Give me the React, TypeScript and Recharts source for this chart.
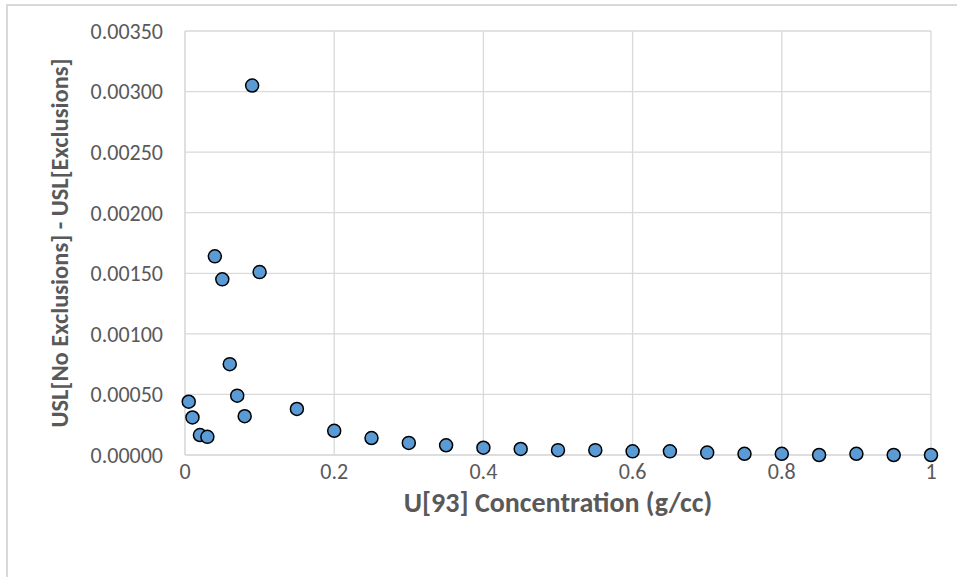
import { ScatterChart, Scatter, XAxis, YAxis, CartesianGrid } from "recharts"

const concentration = [
  0.005, 0.01, 0.02, 0.03, 0.04, 0.05, 0.06, 0.07, 0.08, 0.09, 0.1, 0.15, 0.2, 0.25, 0.3,
  0.35, 0.4, 0.45, 0.5, 0.55, 0.6, 0.65, 0.7, 0.75, 0.8, 0.85, 0.9, 0.95, 1.0,
]
const uslDifference = [
  0.00044, 0.00031, 0.000165, 0.00015, 0.00164, 0.00145, 0.00075, 0.00049, 0.00032, 0.00305,
  0.00151, 0.00038, 0.0002, 0.00014, 0.0001, 0.00008, 0.00006, 0.00005, 0.00004, 0.00004,
  0.00003, 0.00003, 0.00002, 0.00001, 0.00001, 0.0, 0.00001, 0.0, 0.0,
]
const xTicks = [0, 0.2, 0.4, 0.6, 0.8, 1]
const yTicks = [0, 0.0005, 0.001, 0.0015, 0.002, 0.0025, 0.003, 0.0035]

const points = concentration.map((x, i) => ({ x, y: uslDifference[i] }))

const font = "Calibri, Carlito, 'Open Sans', sans-serif"
const tickStyle = { fill: "#595959", fontSize: 22, fontFamily: font }
const titleStyle = { fill: "#595959", fontWeight: 700, fontFamily: font }

const Dot = (props: any) => {
  const { cx, cy } = props
  return <circle cx={cx} cy={cy} r={6.5} fill="#5b9bd5" stroke="#000" strokeWidth={1.5} />
}

export default function App() {
  return (
    <div style={{ position: "absolute", left: 0, top: 0, width: 957, height: 577, background: "#fff" }}>
      <div
        style={{
          position: "absolute",
          left: 6,
          top: 4,
          width: 960,
          height: 600,
          borderLeft: "2px solid #d9d9d9",
          borderTop: "2px solid #d9d9d9",
        }}
      />
      <ScatterChart
        width={957}
        height={577}
        margin={{ top: 31, right: 26, bottom: 62, left: 0 }}
        style={{ position: "absolute", left: 0, top: 0 }}
      >
        <CartesianGrid stroke="#d9d9d9" strokeWidth={1.3} />
        <XAxis
          type="number"
          dataKey="x"
          domain={[0, 1]}
          ticks={xTicks}
          tickFormatter={(v: number) => String(v)}
          axisLine={{ stroke: "#d9d9d9" }}
          tickLine={false}
          tickSize={0}
          tickMargin={8}
          tick={tickStyle}
          height={60}
          label={{
            value: "U[93] Concentration (g/cc)",
            position: "insideBottom",
            offset: 3,
            style: { ...titleStyle, fontSize: 28 },
          }}
        />
        <YAxis
          type="number"
          dataKey="y"
          domain={[0, 0.0035]}
          ticks={yTicks}
          tickFormatter={(v: number) => v.toFixed(5)}
          axisLine={{ stroke: "#d9d9d9" }}
          tickLine={false}
          tickSize={0}
          tickMargin={22}
          tick={tickStyle}
          width={185}
          label={{
            value: "USL[No Exclusions] - USL[Exclusions]",
            angle: -90,
            position: "insideLeft",
            offset: 59,
            style: { ...titleStyle, fontSize: 24.5, textAnchor: "middle" },
          }}
        />
        <Scatter data={points} shape={<Dot />} isAnimationActive={false} />
      </ScatterChart>
    </div>
  )
}
